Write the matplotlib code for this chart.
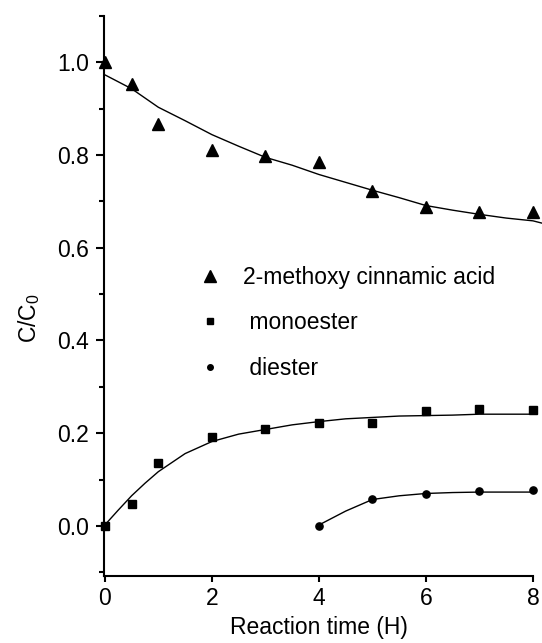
import matplotlib
matplotlib.use("Agg")
import matplotlib.pyplot as plt
from matplotlib.lines import Line2D
from matplotlib.ticker import FixedLocator

plt.rcParams['font.family'] = ['Liberation Sans', 'DejaVu Sans']
plt.rcParams['mathtext.fontset'] = 'custom'
plt.rcParams['mathtext.rm'] = 'Liberation Sans'
plt.rcParams['mathtext.it'] = 'Liberation Sans:italic'

# ---- data ----
acid_t = [0, 0.5, 1, 2, 3, 4, 5, 6, 7, 8]
acid = [1.000, 0.953, 0.867, 0.810, 0.797, 0.785, 0.722, 0.688, 0.678, 0.677]

mono_t = [0, 0.5, 1, 2, 3, 4, 5, 6, 7, 8]
mono = [0.000, 0.047, 0.135, 0.192, 0.208, 0.221, 0.223, 0.247, 0.253, 0.251]

di_t = [4, 5, 6, 7, 8]
di = [0.000, 0.057, 0.069, 0.075, 0.077]

# fitted curves (read at sample times)
acid_fit_t = [0, 0.5, 1, 1.5, 2, 2.5, 3, 3.5, 4, 4.5, 5, 5.5, 6, 6.5, 7, 7.5, 8, 8.17]
acid_fit = [0.973, 0.943, 0.903, 0.874, 0.844, 0.819, 0.795, 0.778, 0.758,
            0.741, 0.724, 0.708, 0.691, 0.681, 0.672, 0.664, 0.658, 0.653]

mono_fit_t = [0, 0.25, 0.5, 0.75, 1, 1.5, 2, 2.5, 3, 3.5, 4, 4.5, 5, 5.5, 6, 6.5, 7, 7.5, 8]
mono_fit = [0.002, 0.034, 0.065, 0.092, 0.117, 0.156, 0.182, 0.198, 0.208, 0.218,
            0.225, 0.231, 0.234, 0.237, 0.238, 0.239, 0.241, 0.241, 0.241]

di_fit_t = [4, 4.5, 5, 5.5, 6, 6.5, 7, 7.5, 8]
di_fit = [0.002, 0.032, 0.057, 0.065, 0.070, 0.072, 0.073, 0.073, 0.073]

labels = ['2-methoxy cinnamic acid', ' monoester', ' diester']
x_label = 'Reaction time (H)'
y_label = r'$\mathregular{C/C_0}$'
x_ticks = [0, 2, 4, 6, 8]
y_ticks = [0.0, 0.2, 0.4, 0.6, 0.8, 1.0]

FS = 16.5

# ---- figure ----
fig = plt.figure(figsize=(5.42, 6.43), dpi=100)
ax = fig.add_axes([0.1924, 0.1042, 0.7910, 0.8714])

ax.plot(acid_fit_t, acid_fit, color='black', lw=1.0, clip_on=False)
ax.plot(mono_fit_t, mono_fit, color='black', lw=1.0)
ax.plot(di_fit_t, di_fit, color='black', lw=1.0)

ax.plot(acid_t, acid, ls='none', marker='^', ms=9, color='black', clip_on=False)
ax.plot(mono_t, mono, ls='none', marker='s', ms=5.8, color='black', clip_on=False)
ax.plot(di_t, di, ls='none', marker='o', ms=5.2, color='black', clip_on=False)

ax.set_xlim(-0.01, 8.0)
ax.set_ylim(-0.108, 1.1005)

for s in ['top', 'right']:
    ax.spines[s].set_visible(False)
for s in ['left', 'bottom']:
    ax.spines[s].set_linewidth(1.5)

ax.xaxis.set_major_locator(FixedLocator(x_ticks))
ax.set_xticklabels([str(v) for v in x_ticks])
ax.yaxis.set_major_locator(FixedLocator(y_ticks))
ax.set_yticklabels(['%.1f' % v for v in y_ticks])
ax.yaxis.set_minor_locator(FixedLocator([-0.1, 0.1, 0.3, 0.5, 0.7, 0.9, 1.1]))

ax.tick_params(axis='x', which='major', direction='out', length=4, width=1.5,
               labelsize=FS, pad=4.0)
ax.tick_params(axis='y', which='major', direction='out', length=6.1, width=1.5,
               labelsize=FS, pad=5.0)
ax.tick_params(axis='y', which='minor', direction='out', length=3.6, width=1.5)

ax.set_xlabel(x_label, fontsize=FS, labelpad=4.5)
ax.text(-0.176, 0.46, y_label, rotation=90, ha='center', va='center',
        fontsize=FS, transform=ax.transAxes)

handles = [
    Line2D([], [], ls='none', marker='^', ms=8.5, color='black'),
    Line2D([], [], ls='none', marker='s', ms=4.5, color='black'),
    Line2D([], [], ls='none', marker='o', ms=4.0, color='black'),
]
ax.legend(handles, labels, loc='upper left', bbox_to_anchor=(0.2207, 0.553),
          frameon=False, fontsize=FS, borderpad=0, borderaxespad=0,
          handlelength=1.0, handletextpad=0.93, labelspacing=0.97)

fig.savefig('out.png', dpi=100)
